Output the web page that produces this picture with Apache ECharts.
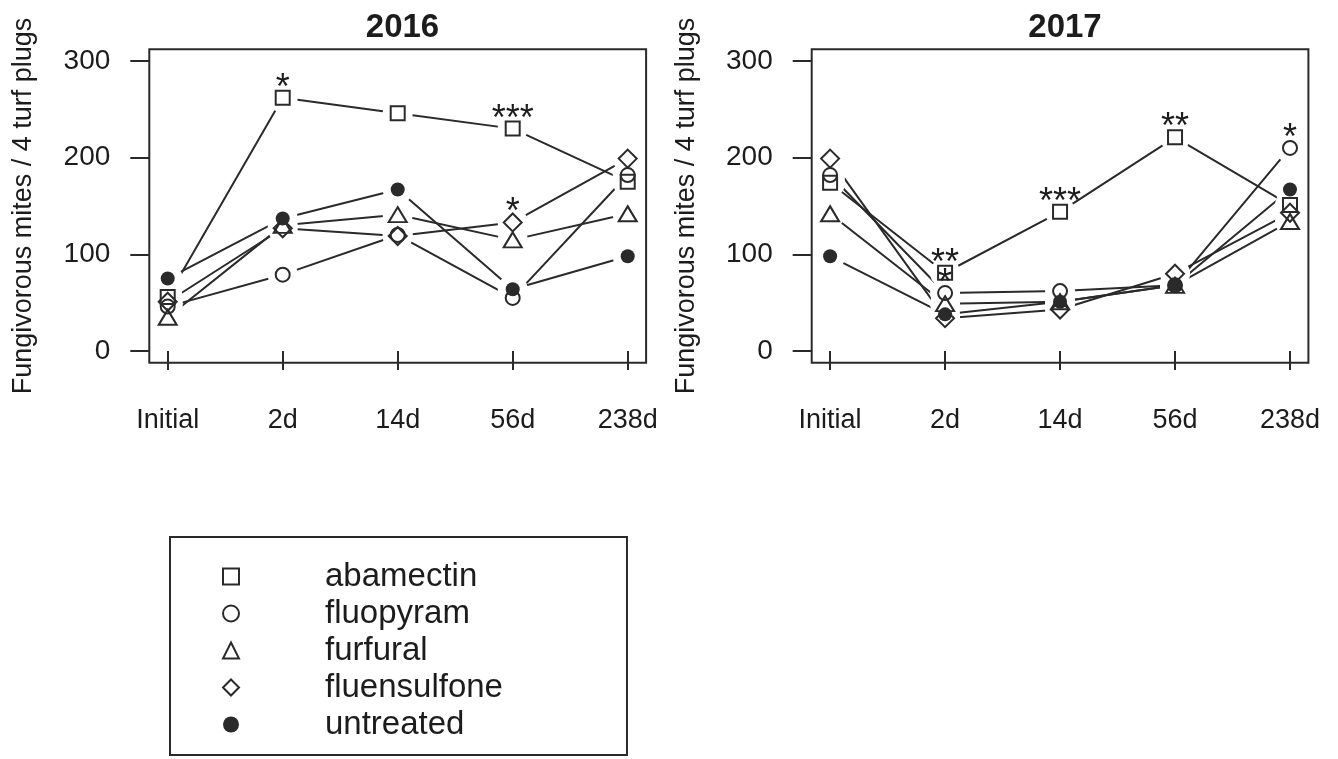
<!DOCTYPE html>
<html>
<head>
<meta charset="utf-8">
<script src="https://cdn.jsdelivr.net/npm/echarts@6/dist/echarts.min.js"></script>
<style>
  html, body { margin: 0; padding: 0; background: #fff; }
  #chart { width: 1338px; height: 759px; }
</style>
</head>
<body>
<div id="chart"></div>
<script>
// ---------------- DATA ----------------
const categories = ['Initial', '2d', '14d', '56d', '238d'];
const treatments = ['abamectin', 'fluopyram', 'furfural', 'fluensulfone', 'untreated'];
const yTicks = [0, 100, 200, 300];
const panelTitles = ['2016', '2017'];
const yAxisTitle = 'Fungivorous mites / 4 turf plugs';

// 2016
const abamectin2016    = [56, 262, 246, 230, 175];
const fluopyram2016    = [46, 79, 120, 55, 182];
const furfural2016     = [35, 130, 141, 115, 142];
const fluensulfone2016 = [51, 127, 119, 133, 199];
const untreated2016    = [75, 137, 167, 64, 98];

// 2017
const abamectin2017    = [174, 81, 144, 221, 151];
const fluopyram2017    = [182, 60, 62, 68, 210];
const furfural2017     = [142, 49, 51, 68, 134];
const fluensulfone2017 = [199, 34, 43, 80, 143];
const untreated2017    = [98, 38, 51, 68, 167];

// significance marks: [category, treatment, text]
const stars2016 = [['2d', 'abamectin', '*'], ['56d', 'abamectin', '***'], ['56d', 'fluensulfone', '*']];
const stars2017 = [['2d', 'abamectin', '**'], ['2d', 'fluopyram', '*'], ['14d', 'abamectin', '***'],
                   ['56d', 'abamectin', '**'], ['238d', 'fluopyram', '*']];

// ---------------- BUILD ----------------
const panels = [
  { abamectin: abamectin2016, fluopyram: fluopyram2016, furfural: furfural2016, fluensulfone: fluensulfone2016, untreated: untreated2016, stars: stars2016 },
  { abamectin: abamectin2017, fluopyram: fluopyram2017, furfural: furfural2017, fluensulfone: fluensulfone2017, untreated: untreated2017, stars: stars2017 }
];

const INK = '#2a2a2a';
const TXT = '#1c1c1c';
const FONT = 'Liberation Sans, Arial, Helvetica, sans-serif';

const markerStyle = {
  abamectin:    { symbol: 'rect', size: 14, filled: false },
  fluopyram:    { symbol: 'circle', size: 14, filled: false },
  furfural:     { symbol: 'triangle', size: [18, 15], filled: false },
  fluensulfone: { symbol: 'diamond', size: 18, filled: false },
  untreated:    { symbol: 'circle', size: 14, filled: true }
};

function pts(vals) { return vals.map((v, i) => [i + 1, v]); }
function markStyle(t) {
  return markerStyle[t].filled
    ? { color: INK, borderWidth: 0, opacity: 1 }
    : { color: 'rgba(0,0,0,0)', borderColor: INK, borderWidth: 2, opacity: 1 };
}

const markerSeries = [], lineSeries = [], maskSeries = [], starSeries = [];
panels.forEach((p, gi) => {
  treatments.forEach(t => {
    const m = markerStyle[t];
    markerSeries.push({
      type: 'scatter', name: t, xAxisIndex: gi, yAxisIndex: gi, z: 4,
      symbol: m.symbol, symbolSize: m.size,
      itemStyle: markStyle(t),
      data: pts(p[t])
    });
    lineSeries.push({
      type: 'line', name: t, xAxisIndex: gi, yAxisIndex: gi, z: 2,
      symbol: 'none', lineStyle: { color: INK, width: 2, opacity: 1 },
      data: pts(p[t])
    });
    maskSeries.push({
      type: 'scatter', name: 'gap', xAxisIndex: gi, yAxisIndex: gi, z: 3, silent: true,
      symbol: 'circle', symbolSize: 30, itemStyle: { color: '#ffffff', opacity: 1 },
      data: pts(p[t])
    });
  });
  starSeries.push({
    type: 'scatter', name: 'sig', xAxisIndex: gi, yAxisIndex: gi, z: 5, silent: true,
    symbolSize: 1, itemStyle: { color: 'rgba(0,0,0,0)', opacity: 1 },
    label: { show: true, position: 'inside', offset: [0, -9], formatter: q => q.name,
             fontSize: 36, color: TXT, fontFamily: FONT },
    data: p.stars.map(s => {
      const xi = categories.indexOf(s[0]);
      return { name: s[2], value: [xi + 1, p[s[1]][xi]] };
    })
  });
});

const gridBase = { top: 49.3, bottom: 396.3, show: true, borderColor: INK, borderWidth: 2, backgroundColor: 'rgba(0,0,0,0)' };
const grids = [
  Object.assign({ left: 149.3, right: 691.9 }, gridBase),
  Object.assign({ left: 811.7, right: 29.6 }, gridBase)
];

const xAxes = [0, 1].map(gi => ({
  type: 'value', gridIndex: gi, min: 0.84, max: 5.16,
  axisLine: { show: false }, splitLine: { show: false },
  axisTick: { show: true, inside: false, length: 19, lineStyle: { color: INK, width: 2 }, customValues: categories.map((c, i) => i + 1) },
  axisLabel: { show: true, margin: 44, fontSize: 27, color: TXT, fontFamily: FONT,
               customValues: categories.map((c, i) => i + 1),
               formatter: v => categories[Math.round(v) - 1] }
}));

const yAxes = [0, 1].map(gi => ({
  type: 'value', gridIndex: gi, min: -12, max: 312,
  name: yAxisTitle, nameLocation: 'middle', nameGap: 112,
  nameTextStyle: { fontSize: 27, color: TXT, fontFamily: FONT },
  axisLine: { show: false }, splitLine: { show: false },
  axisTick: { show: true, inside: false, length: 19, lineStyle: { color: INK, width: 2 }, customValues: yTicks },
  axisLabel: { show: true, margin: 39, fontSize: 28, color: TXT, fontFamily: FONT, customValues: yTicks }
}));

const legendIcon = { abamectin: 'rect', fluopyram: 'circle', furfural: 'triangle', fluensulfone: 'diamond', untreated: 'circle' };

const option = {
  animation: false,
  backgroundColor: '#ffffff',
  title: [
    { text: panelTitles[0], left: 397.5, top: 6, textAlign: 'center',
      textStyle: { fontSize: 33, fontWeight: 'bold', color: TXT, fontFamily: FONT } },
    { text: panelTitles[1], left: 1060, top: 6, textAlign: 'center',
      textStyle: { fontSize: 33, fontWeight: 'bold', color: TXT, fontFamily: FONT } }
  ],
  legend: {
    orient: 'vertical', left: 170, top: 537, height: 181,
    padding: [23, 124, 14, 52],
    borderColor: INK, borderWidth: 2,
    itemWidth: 16, itemHeight: 16, itemGap: 4,
    selectedMode: false,
    textStyle: { fontSize: 33, color: TXT, fontFamily: FONT, padding: [0, 0, 0, 81] },
    data: treatments.map(t => ({ name: t, icon: legendIcon[t], itemStyle: markStyle(t) }))
  },
  grid: grids,
  xAxis: xAxes,
  yAxis: yAxes,
  series: [].concat(markerSeries, lineSeries, maskSeries, starSeries)
};

const chart = echarts.init(document.getElementById('chart'), null, { renderer: 'canvas' });
chart.setOption(option);
</script>
</body>
</html>
